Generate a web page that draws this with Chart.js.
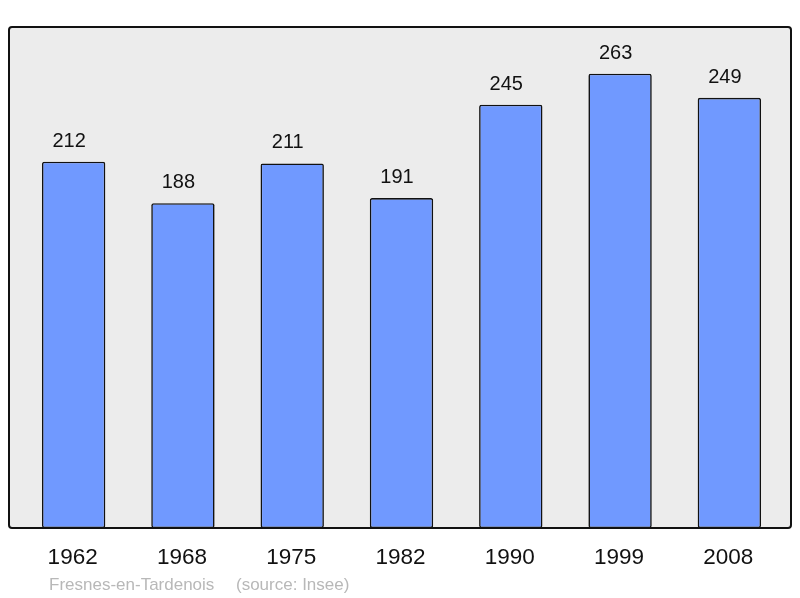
<!DOCTYPE html>
<html>
<head>
<meta charset="utf-8">
<script src="https://cdn.jsdelivr.net/npm/chart.js@4"></script>
<style>
  html, body { margin: 0; padding: 0; background: #fff; }
  #wrap { width: 800px; height: 598px; }
</style>
</head>
<body>
<div id="wrap"><canvas id="popChart" width="800" height="598"></canvas></div>
<script>
const years = ['1962', '1968', '1975', '1982', '1990', '1999', '2008'];
const population = [212, 188, 211, 191, 245, 263, 249];

// frame box, value labels, year labels and footer
const decor = {
  id: 'decor',
  beforeDraw(chart) {
    const ctx = chart.ctx;
    const y = chart.scales.y;
    const top = y.getPixelForValue(290);
    const bottom = y.getPixelForValue(0);
    ctx.save();
    ctx.beginPath();
    ctx.roundRect(9, top, 782, bottom - top, 3);
    ctx.fillStyle = '#ececec';
    ctx.fill();
    ctx.restore();
  },
  afterDatasetsDraw(chart) {
    const ctx = chart.ctx;
    const x = chart.scales.x;
    const y = chart.scales.y;
    const top = y.getPixelForValue(290);
    const bottom = y.getPixelForValue(0);
    ctx.save();
    ctx.beginPath();
    ctx.roundRect(9, top, 782, bottom - top, 3);
    ctx.lineWidth = 2;
    ctx.strokeStyle = '#111';
    ctx.stroke();

    ctx.fillStyle = '#111';
    ctx.textAlign = 'center';
    ctx.textBaseline = 'middle';
    ctx.font = '20px "Liberation Sans", Arial, sans-serif';
    population.forEach((v, i) => {
      ctx.fillText(String(v), x.getPixelForValue(i) - 4.5, y.getPixelForValue(v) - 20.5);
    });
    ctx.font = '22.5px "Liberation Sans", Arial, sans-serif';
    years.forEach((yr, i) => {
      ctx.fillText(yr, x.getPixelForValue(i) - 1, 557.5);
    });
    ctx.textAlign = 'left';
    ctx.fillStyle = '#b8b8b8';
    ctx.font = '17px "Liberation Sans", Arial, sans-serif';
    ctx.fillText('Fresnes-en-Tardenois', 49, 585);
    ctx.fillText('(source: Insee)', 236, 585);
    ctx.restore();
  }
};

const chart = new Chart(document.getElementById('popChart'), {
  type: 'bar',
  data: {
    labels: years,
    datasets: [{
      data: population,
      backgroundColor: '#7099ff',
      borderColor: '#111',
      borderWidth: 1.6,
      borderRadius: 2,
      borderSkipped: false,
      barPercentage: 0.58,
      categoryPercentage: 1
    }]
  },
  options: {
    responsive: false,
    animation: false,
    layout: { padding: { left: 19, right: 16, top: 27, bottom: 70 } },
    plugins: {
      legend: { display: false },
      tooltip: { enabled: false }
    },
    scales: {
      x: { display: false },
      y: { display: false, min: 0, max: 290 }
    }
  },
  plugins: [decor]
});
</script>
</body>
</html>
